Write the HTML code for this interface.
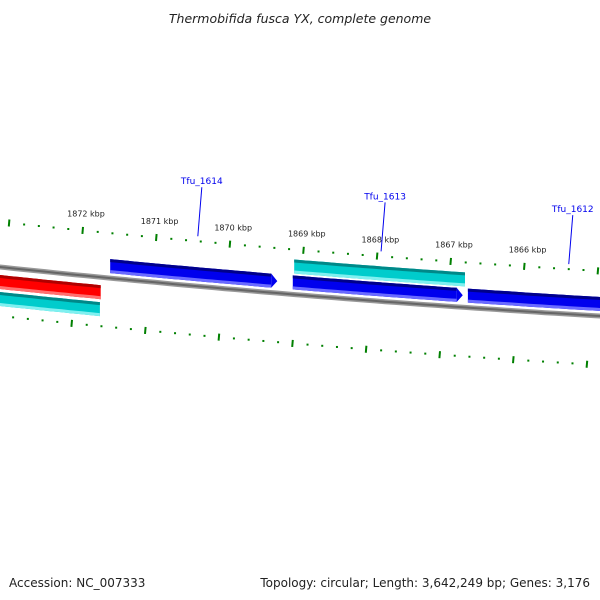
<!DOCTYPE html>
<html><head><meta charset="utf-8"><style>
html,body{margin:0;padding:0;background:#fff;}
svg{display:block;font-family:"DejaVu Sans","Liberation Sans",sans-serif;}
</style></head><body>
<svg id="chart" width="600" height="600" viewBox="0 0 600 600">
<text x="300" y="23" text-anchor="middle" font-size="12.5" font-style="italic" fill="#222">Thermobifida fusca YX, complete genome</text>
<text x="9" y="587" font-size="12" fill="#222">Accession: NC_007333</text>
<text x="590" y="587" text-anchor="end" font-size="12" fill="#222">Topology: circular; Length: 3,642,249 bp; Genes: 3,176</text>
<g id="plot"></g>
</svg>
<script>
const tickKbp = [1873, 1872, 1871, 1870, 1869, 1868, 1867, 1866, 1865];
const tickLabels = ["1873 kbp","1872 kbp","1871 kbp","1870 kbp","1869 kbp","1868 kbp","1867 kbp","1866 kbp","1865 kbp"];
const geneNames = ["red-gene","cyan-gene-left","Tfu_1614","Tfu_1613-cyan","Tfu_1613","Tfu_1612"];
const geneStart = [1873.5, 1873.5, 1871.63, 1869.13, 1869.15, 1866.77];
const geneEnd = [1871.76, 1871.77, 1869.36, 1866.81, 1866.84, 1864.0];
const geneTrack = [15, 32, -12, -28, -12, -12];
const geneFill = ["#ff0000","#00cccc","#0000ee","#00cccc","#0000ee","#0000ee"];
const geneDark = ["#b00000","#008888","#00008a","#008888","#00008a","#00008a"];
const geneLight = ["#ff7070","#80f0f0","#6a6aff","#80f0f0","#6a6aff","#6a6aff"];
const geneArrow = [false,false,true,false,true,false];
const geneLabel = ["","","Tfu_1614","","Tfu_1613","Tfu_1612"];
const labelKbp = [0,0,1870.44,0,1867.95,1865.40];

const NS="http://www.w3.org/2000/svg";
const plot=document.getElementById('plot');
function xOf(k){return 83+(1872-k)*73.6;}
function base(x){return 267+0.105*x-0.0000389*x*x;}
function yAt(x,off){return base(x)+off;}
function mk(tag,attrs){const e=document.createElementNS(NS,tag);for(const a in attrs)e.setAttribute(a,attrs[a]);plot.appendChild(e);return e;}
function band(x0,x1,off,h){let top=[],bot=[];for(let x=x0;x<=x1+0.01;x+=(x1-x0)/30){top.push(x.toFixed(1)+','+yAt(x,off-h/2).toFixed(1));bot.unshift(x.toFixed(1)+','+yAt(x,off+h/2).toFixed(1));}return top.concat(bot).join(' ');}

let bb=[];for(let x=-5;x<=605;x+=10)bb.push(x+','+base(x).toFixed(1));
let bl=mk('polyline',{points:bb.join(' '),fill:'none',stroke:'#999','stroke-width':5});


let bl2=mk('polyline',{points:bb.join(' '),fill:'none',stroke:'#666','stroke-width':2});



for(let i=0;i<tickKbp.length;i++){
 for(let j=0;j<5;j++){
  const k=tickKbp[i]-j*0.2;
  const major=j===0;
  [[xOf(k),-45],[xOf(k)-11,49]].forEach(([x,off])=>{
   if(x<-5||x>605)return;
   const y=yAt(x,off);const len=major?7:2;
   const t=mk('line',{x1:x,y1:y-len/2,x2:x+(major?-0.6:0),y2:y+len/2,stroke:'#008000','stroke-width':2});
   
   
  });
 }
 const lx=xOf(tickKbp[i])+3;
 if(lx>20&&lx<580){
  const t=mk('text',{x:lx,y:yAt(lx,-59),'font-size':8,'text-anchor':'middle',fill:'#222'});
  t.textContent=tickLabels[i];
  
  
 }
}

for(let i=0;i<geneNames.length;i++){
 let x0=xOf(geneStart[i]),x1=xOf(geneEnd[i]);
 const off=geneTrack[i],h=14;
 const tipX=geneArrow[i]?x1:null; if(geneArrow[i])x1-=6;
 const g=document.createElementNS(NS,'g');plot.appendChild(g);
 
 
 g.appendChild(mk('polygon',{points:band(x0,x1,off,h),fill:geneFill[i]}));
 g.appendChild(mk('polygon',{points:band(x0,x1,off-h/2+1.5,3),fill:geneDark[i]}));
 g.appendChild(mk('polygon',{points:band(x0,x1,off+h/2-1.5,3),fill:geneLight[i]}));
 if(geneArrow[i]){
  g.appendChild(mk('polygon',{points:`${x1},${yAt(x1,off-h/2)} ${tipX},${yAt(tipX,off)} ${x1},${yAt(x1,off+h/2)}`,fill:geneFill[i]}));
 }
 if(geneLabel[i]){
  const mx=xOf(labelKbp[i]);
  const y0=yAt(mx,-45);
  const ln=mk('line',{x1:mx+4,y1:y0-54,x2:mx,y2:y0-5,stroke:'#0000ee','stroke-width':1});
  
  
  const t=mk('text',{x:mx+4,y:y0-57,'font-size':9,'text-anchor':'middle',fill:'#0000ee'});
  t.textContent=geneLabel[i];
  
  
 }
}
</script>
</body></html>
